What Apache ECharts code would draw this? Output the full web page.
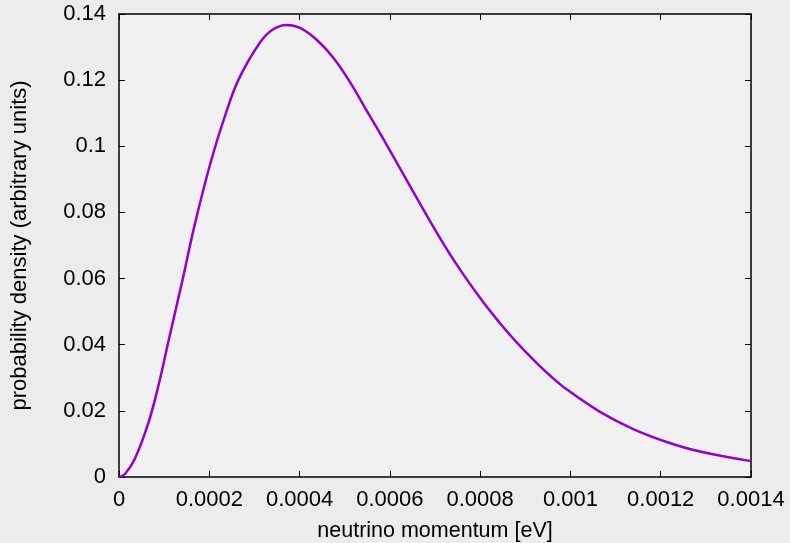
<!DOCTYPE html>
<html>
<head>
<meta charset="utf-8">
<script src="https://cdn.jsdelivr.net/npm/echarts@6/dist/echarts.min.js"></script>
<style>
	html, body { margin: 0; padding: 0; background: #ececec; }
	#main { width: 790px; height: 543px; }
</style>
</head>
<body>
<div id="main"></div>
<script>
	// momentum [eV] and density
	var momentum = [0, 0.0000133, 0.0000354, 0.0000649, 0.0000871, 0.0001092, 0.0001278, 0.0001424,
		0.0001646, 0.0001867, 0.0002089, 0.000231, 0.0002643, 0.0003123, 0.0003418, 0.0003714,
		0.0004009, 0.0004379, 0.0004747, 0.0005117, 0.0005486, 0.0005781, 0.0006151, 0.0006519,
		0.0006889, 0.0007405, 0.0008, 0.000844, 0.0008809, 0.0009177, 0.0009547, 0.0009917,
		0.0010655, 0.0011392, 0.0012132, 0.001287, 0.0014];
	var density = [0, 0.0009, 0.0056, 0.0163, 0.0275, 0.0408, 0.0519, 0.0606,
		0.0745, 0.0868, 0.0979, 0.1076, 0.1200, 0.1314, 0.1354, 0.1367,
		0.1358, 0.1322, 0.1268, 0.1194, 0.1108, 0.1040, 0.0951, 0.0862,
		0.0774, 0.0658, 0.0541, 0.0465, 0.0407, 0.0355, 0.0307, 0.0265,
		0.0197, 0.0145, 0.0106, 0.0077, 0.0048];
	var xTicks = ['0', '0.0002', '0.0004', '0.0006', '0.0008', '0.001', '0.0012', '0.0014'];
	var yTicks = ['0', '0.02', '0.04', '0.06', '0.08', '0.1', '0.12', '0.14'];

	var points = [];
	for (var i = 0; i < momentum.length; i++) {
		points.push([momentum[i], density[i]]);
	}

	var xStep = 0.0002, yStep = 0.02;
	var fontFamily = 'Liberation Sans, Arial, sans-serif';

	function axisBase(show) {
		return {
			type: 'value',
			axisLine: { show: true, onZero: false, lineStyle: { color: '#000', width: 1.5 } },
			axisTick: { show: true, inside: true, length: 6, lineStyle: { color: '#000', width: 1 } },
			splitLine: { show: false },
			axisLabel: {
				show: show,
				color: '#000',
				fontSize: 22,
				fontFamily: fontFamily
			}
		};
	}

	var xBottom = axisBase(true);
	xBottom.position = 'bottom';
	xBottom.min = 0;
	xBottom.max = xStep * (xTicks.length - 1);
	xBottom.interval = xStep;
	xBottom.axisLabel.margin = 12;
	xBottom.axisLabel.formatter = function(v) { return xTicks[Math.round(v / xStep)]; };
	xBottom.name = 'neutrino momentum [eV]';
	xBottom.nameLocation = 'middle';
	xBottom.nameGap = 43;
	xBottom.nameTextStyle = { color: '#000', fontSize: 21.5, fontFamily: fontFamily };

	var xTop = axisBase(false);
	xTop.position = 'top';
	xTop.min = xBottom.min;
	xTop.max = xBottom.max;
	xTop.interval = xStep;

	var yLeft = axisBase(true);
	yLeft.position = 'left';
	yLeft.min = 0;
	yLeft.max = yStep * (yTicks.length - 1);
	yLeft.interval = yStep;
	yLeft.axisLabel.margin = 13;
	yLeft.axisLabel.formatter = function(v) { return yTicks[Math.round(v / yStep)]; };
	yLeft.name = 'probability density (arbitrary units)';
	yLeft.nameLocation = 'middle';
	yLeft.nameGap = 88;
	yLeft.nameTextStyle = { color: '#000', fontSize: 22, fontFamily: fontFamily };

	var yRight = axisBase(false);
	yRight.position = 'right';
	yRight.min = yLeft.min;
	yRight.max = yLeft.max;
	yRight.interval = yStep;

	var myChart = echarts.init(document.getElementById('main'));
	var option = {
		backgroundColor: '#ececec',
		animation: false,
		grid: {
			left: 119,
			right: 39,
			top: 14,
			bottom: 66,
			outerBoundsMode: 'none',
			show: true,
			backgroundColor: '#f1f1f1',
			borderWidth: 0
		},
		xAxis: [xBottom, xTop],
		yAxis: [yLeft, yRight],
		series: [{
			type: 'line',
			data: points,
			smooth: 0.4,
			symbol: 'none',
			clip: true,
			lineStyle: { color: '#9400d3', width: 2.5 }
		}]
	};
	myChart.setOption(option);
</script>
</body>
</html>
